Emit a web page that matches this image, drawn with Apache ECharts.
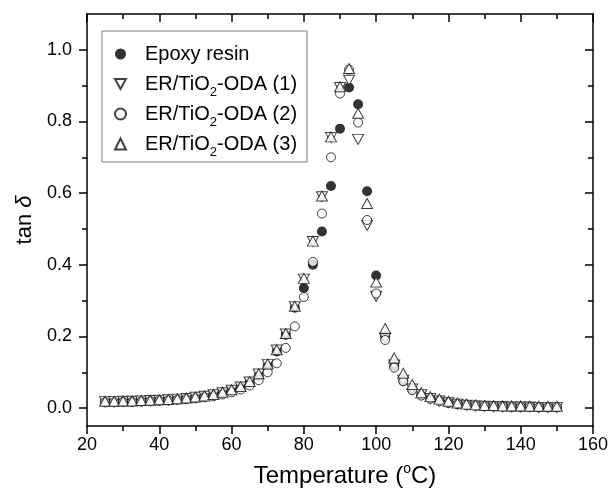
<!DOCTYPE html>
<html>
<head>
<meta charset="utf-8">
<script src="https://cdn.jsdelivr.net/npm/echarts@6/dist/echarts.min.js"></script>
<style>
html,body{margin:0;padding:0;background:#fff;}
#chart{width:613px;height:499px;}
</style>
</head>
<body>
<div id="chart"></div>
<script>
// ---- data ----
const temps = [25,27.5,30,32.5,35,37.5,40,42.5,45,47.5,50,52.5,55,57.5,60,62.5,65,67.5,70,72.5,75,77.5,80,82.5,85,87.5,90,92.5,95,97.5,100,102.5,105,107.5,110,112.5,115,117.5,120,122.5,125,127.5,130,132.5,135,137.5,140,142.5,145,147.5,150];

const epoxy = [0.018,0.018,0.019,0.019,0.020,0.021,0.022,0.023,0.025,0.027,0.029,0.032,0.036,0.042,0.049,0.058,0.071,0.090,0.118,0.158,0.205,0.280,0.335,0.400,0.493,0.620,0.780,0.895,0.848,0.605,0.370,0.200,0.118,0.076,0.052,0.037,0.027,0.021,0.016,0.012,0.009,0.007,0.006,0.005,0.005,0.004,0.004,0.004,0.003,0.003,0.003];

const er1 = [0.018,0.018,0.019,0.019,0.020,0.021,0.022,0.023,0.025,0.027,0.030,0.033,0.037,0.043,0.050,0.059,0.073,0.095,0.122,0.162,0.207,0.283,0.360,0.465,0.590,0.755,0.895,0.915,0.750,0.510,0.312,0.195,0.120,0.078,0.053,0.037,0.027,0.020,0.015,0.011,0.008,0.006,0.005,0.004,0.004,0.003,0.003,0.003,0.002,0.002,0.002];

const er2 = [0.016,0.016,0.017,0.017,0.018,0.019,0.020,0.021,0.023,0.025,0.027,0.030,0.033,0.038,0.044,0.052,0.063,0.078,0.100,0.125,0.168,0.228,0.310,0.408,0.543,0.700,0.878,0.945,0.797,0.525,0.320,0.190,0.113,0.075,0.050,0.035,0.026,0.019,0.014,0.011,0.008,0.006,0.005,0.004,0.004,0.003,0.003,0.003,0.002,0.002,0.002];

const er3 = [0.019,0.019,0.020,0.020,0.021,0.022,0.023,0.024,0.026,0.028,0.031,0.034,0.038,0.044,0.051,0.060,0.074,0.096,0.123,0.163,0.208,0.284,0.362,0.466,0.592,0.757,0.897,0.948,0.823,0.571,0.352,0.222,0.140,0.097,0.066,0.043,0.032,0.025,0.019,0.014,0.011,0.009,0.007,0.007,0.006,0.006,0.006,0.005,0.005,0.005,0.005];

const seriesNames = ['Epoxy resin','ER/TiO2-ODA (1)','ER/TiO2-ODA (2)','ER/TiO2-ODA (3)'];
const xTickValues = [20,40,60,80,100,120,140,160];
const yTickValues = [0.0,0.2,0.4,0.6,0.8,1.0];
const yMinorValues = [0.1,0.3,0.5,0.7,0.9];

// ---- chart ----
const FONT = 'Liberation Sans, Arial, Helvetica, sans-serif';
const AX = '#000';
const chart = echarts.init(document.getElementById('chart'), null, {renderer:'canvas'});

function pairs(ys){ return temps.map((t,i)=>[t, ys[i]]); }

const lineStyle = {color:AX, width:1.5};
function xAxisCfg(pos){
  const bottom = pos==='bottom';
  return {
    type:'value', position:pos, min:20, max:160, interval:20,
    axisLine:{show:true, onZero:false, lineStyle},
    axisTick:{show:true, inside:!bottom, length:8, lineStyle},
    minorTick:{show:true, splitNumber:2, length:5, lineStyle},
    splitLine:{show:false},
    axisLabel:{show:bottom, fontSize:18, color:'#000', fontFamily:FONT, margin:10,
      customValues: xTickValues},
    name: bottom ? 'Temperature ({sup|o}C)' : '',
    nameLocation:'middle', nameGap:36,
    nameTextStyle:{fontSize:24, color:'#000', fontFamily:FONT, lineHeight:28, padding:[0,0,0,10],
      rich:{sup:{fontSize:14, lineHeight:14, verticalAlign:'top', fontFamily:FONT, color:'#000'}}}
  };
}
function yAxisCfg(pos, minor){
  const left = pos==='left';
  return {
    type:'value', position:pos, min:-0.05, max:1.1,
    axisLine:{show:!minor, onZero:false, lineStyle},
    axisTick:{show:true, inside:!left, length: minor?5:8, lineStyle,
      customValues: minor ? yMinorValues : yTickValues},
    splitLine:{show:false},
    axisLabel:{show: left && !minor, fontSize:18, color:'#000', fontFamily:FONT, margin:15,
      customValues: yTickValues, formatter: v => Number(v).toFixed(1)},
    name: (left && !minor) ? 'tan {i|δ}' : '',
    nameLocation:'middle', nameGap:50,
    nameTextStyle:{fontSize:22, color:'#000', fontFamily:FONT,
      rich:{i:{fontSize:22, fontStyle:'italic', fontFamily:FONT, color:'#000'}}}
  };
}

const openStyle = {color:'#fff', borderColor:'#111', borderWidth:1};
const downTriangle = 'path://M0,0L10,0L5,9Z';

chart.setOption({
  animation:false,
  backgroundColor:'#fff',
  grid:{left:87, right:20, top:14, bottom:73, containLabel:false},
  xAxis:[xAxisCfg('bottom'), xAxisCfg('top')],
  yAxis:[yAxisCfg('left',false), yAxisCfg('left',true), yAxisCfg('right',false), yAxisCfg('right',true)],
  legend:{
    orient:'vertical', left:102, top:31,
    padding:[8,10,3,12], itemWidth:11, itemHeight:11, itemGap:0,
    borderColor:'#7f7f7f', borderWidth:1, backgroundColor:'#fff',
    data: seriesNames,
    formatter: n => n.replace('TiO2', 'TiO{sub|2}'),
    textStyle:{fontSize:20, color:'#000', fontFamily:FONT, lineHeight:30, padding:[0,0,0,14],
      rich:{sub:{fontSize:13, lineHeight:13, verticalAlign:'bottom', fontFamily:FONT, color:'#000'}}}
  },
  series:[
    {name:seriesNames[0], type:'scatter', data:pairs(epoxy), symbol:'circle', symbolSize:10,
      itemStyle:{color:'#000'}, emphasis:{disabled:true}, z:2},
    {name:seriesNames[1], type:'scatter', data:pairs(er1), symbol:downTriangle, symbolSize:[11,10],
      itemStyle:openStyle, emphasis:{disabled:true}, z:3},
    {name:seriesNames[2], type:'scatter', data:pairs(er2), symbol:'circle', symbolSize:9,
      itemStyle:openStyle, emphasis:{disabled:true}, z:3},
    {name:seriesNames[3], type:'scatter', data:pairs(er3), symbol:'triangle', symbolSize:[11,10],
      itemStyle:openStyle, emphasis:{disabled:true}, z:3}
  ]
});
</script>
</body>
</html>
